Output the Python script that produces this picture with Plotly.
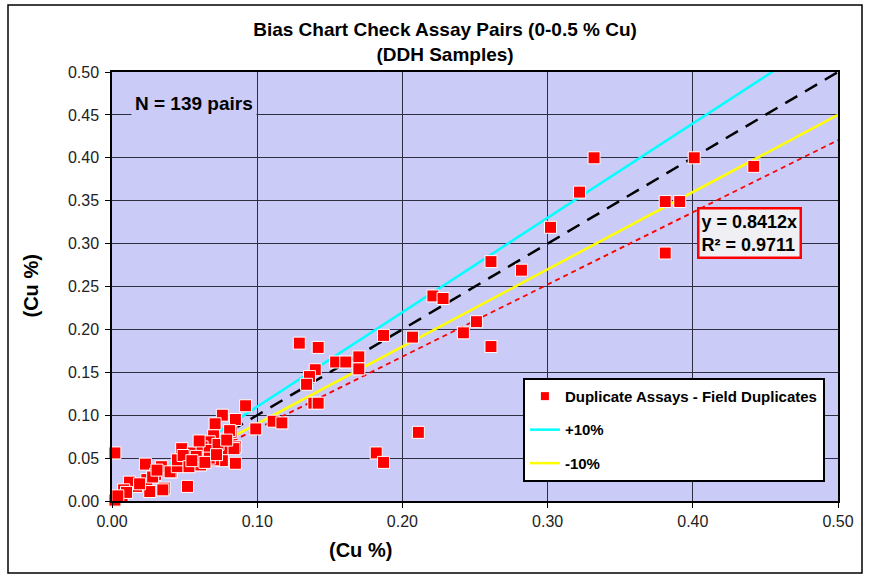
import plotly.graph_objects as go

# Field duplicate pairs: original assay (x) vs duplicate assay (y), Cu %
orig_cu = [
    0.332, 0.401, 0.442, 0.322, 0.381, 0.391, 0.381, 0.302, 0.261, 0.282,
    0.221, 0.228, 0.251, 0.242, 0.261, 0.207, 0.187, 0.211, 0.182, 0.187,
    0.129, 0.142, 0.154, 0.161, 0.170, 0.170, 0.140, 0.136, 0.134, 0.139,
    0.142, 0.092, 0.085, 0.082, 0.099, 0.111, 0.117, 0.085,
    0.076, 0.071, 0.081, 0.070, 0.067, 0.048, 0.056, 0.062, 0.067, 0.076,
    0.084, 0.076, 0.085, 0.061, 0.047, 0.070, 0.035, 0.041, 0.052, 0.036,
    0.002, 0.023, 0.034, 0.040, 0.030, 0.024, 0.017, 0.012, 0.008, 0.007,
    0.002, 0.035, 0.026, 0.045, 0.045, 0.067, 0.049, 0.058, 0.064, 0.053,
    0.073, 0.079, 0.060, 0.028, 0.019, 0.010, 0.004, 0.031, 0.055, 0.072,
]
dup_cu = [
    0.400, 0.400, 0.390, 0.360, 0.349, 0.349, 0.289, 0.319, 0.279, 0.269,
    0.239, 0.236, 0.209, 0.196, 0.180, 0.191, 0.193, 0.080, 0.056, 0.045,
    0.184, 0.179, 0.162, 0.162, 0.168, 0.154, 0.153, 0.145, 0.136, 0.114,
    0.114, 0.111, 0.095, 0.080, 0.084, 0.093, 0.091, 0.063,
    0.100, 0.090, 0.082, 0.076, 0.069, 0.061, 0.056, 0.063, 0.059, 0.059,
    0.061, 0.047, 0.044, 0.042, 0.048, 0.048, 0.038, 0.034, 0.017, 0.015,
    0.056, 0.043, 0.040, 0.034, 0.031, 0.025, 0.017, 0.022, 0.013, 0.005,
    0.001, 0.013, 0.011, 0.040, 0.048, 0.050, 0.053, 0.052, 0.045, 0.040,
    0.066, 0.071, 0.070, 0.028, 0.020, 0.010, 0.006, 0.036, 0.047, 0.054,
]

# Reference lines
line_x = [0.0, 0.5]
slope_one = 1.0
slope_plus = 1.1
slope_minus = 0.9
trend_slope = 0.8412
trend_r2 = 0.9711
n_pairs = 139

tick_vals_x = [0.0, 0.1, 0.2, 0.3, 0.4, 0.5]
tick_vals_y = [0.0, 0.05, 0.10, 0.15, 0.20, 0.25, 0.30, 0.35, 0.40, 0.45, 0.50]

FONT = "Liberation Sans, Arial, sans-serif"
PLOT_BG = "#CBCBF7"
GRID = "#2E2E40"

fig = go.Figure()

fig.add_trace(go.Scatter(
    x=line_x, y=[v * slope_one for v in line_x], mode="lines",
    line=dict(color="black", width=2.5, dash="14px,9px"),
    showlegend=False, hoverinfo="skip"))
fig.add_trace(go.Scatter(
    x=line_x, y=[v * slope_plus for v in line_x], mode="lines",
    name="+10%", legendgroup="b", legendrank=2,
    line=dict(color="#00FFFF", width=2.5)))
fig.add_trace(go.Scatter(
    x=line_x, y=[v * slope_minus for v in line_x], mode="lines",
    name="-10%", legendgroup="c", legendrank=3,
    line=dict(color="#FFFF00", width=2.5)))
fig.add_trace(go.Scatter(
    x=line_x, y=[v * trend_slope for v in line_x], mode="lines",
    line=dict(color="#FF0000", width=1.8, dash="5px,4px"),
    showlegend=False, hoverinfo="skip"))
fig.add_trace(go.Scatter(
    x=orig_cu, y=dup_cu, mode="markers",
    showlegend=False, cliponaxis=False,
    marker=dict(symbol="square", size=12, color="#FF0000",
                line=dict(color="white", width=1))))
# Legend key for the duplicate pairs (smaller square than the plotted marks)
fig.add_trace(go.Scatter(
    x=[None], y=[None], mode="markers",
    name="Duplicate Assays - Field Duplicates", legendgroup="a", legendrank=1,
    marker=dict(symbol="square", size=8, color="#FF0000")))

axis_common = dict(
    range=[0, 0.5], showgrid=True, gridcolor=GRID, gridwidth=1,
    showline=True, linecolor="black", linewidth=1.5, mirror=True,
    ticks="outside", ticklen=5, tickcolor="black", zeroline=False,
    tickformat=".2f", tickfont=dict(family=FONT, size=16, color="#222222"),
)
fig.update_xaxes(tickvals=tick_vals_x, **axis_common)
fig.update_yaxes(tickvals=tick_vals_y, ticklabelstandoff=3, **axis_common)

fig.update_layout(
    width=870, height=578,
    margin=dict(l=112, r=32, t=72, b=77),
    paper_bgcolor="white", plot_bgcolor=PLOT_BG,
    font=dict(family=FONT, color="black"),
    title=dict(
        text="<b>Bias Chart Check Assay Pairs (0-0.5 % Cu)<br>(DDH Samples)</b>",
        x=445 / 870, xanchor="center", y=0.937, yanchor="top",
        font=dict(family=FONT, size=19, color="black")),
    legend=dict(
        x=0.566, y=0.287, xanchor="left", yanchor="top",
        bgcolor="white", bordercolor="black", borderwidth=2,
        font=dict(family=FONT, size=15, color="black", weight="bold"),
        traceorder="grouped", tracegroupgap=11,
        itemwidth=30),
    showlegend=True,
)

# Axis titles
fig.add_annotation(xref="paper", yref="paper", x=(360 - 112) / 726, y=(501 - 550) / 429,
                   xanchor="center", yanchor="middle",
                   text="<b>(Cu %)</b>", showarrow=False,
                   font=dict(family=FONT, size=20, color="black"))
fig.add_annotation(xref="paper", yref="paper", x=(30 - 112) / 726, y=0.5,
                   xanchor="center", yanchor="middle",
                   text="<b>(Cu %)</b>", textangle=-90, showarrow=False,
                   font=dict(family=FONT, size=20, color="black"))

# Sample count
fig.add_annotation(xref="paper", yref="paper", x=(131 - 112) / 726, y=(501 - 103) / 429,
                   xanchor="left", yanchor="middle",
                   text=f"<b>N = {n_pairs} pairs</b>", showarrow=False,
                   bgcolor=PLOT_BG, borderpad=3,
                   font=dict(family=FONT, size=19, color="black"))

# Trendline equation box
fig.add_annotation(xref="paper", yref="paper", x=(697 - 112) / 726, y=(501 - 207) / 429,
                   xanchor="left", yanchor="top", align="left",
                   text=f"<b>y = {trend_slope:.4f}x<br>R² = {trend_r2:.4f}</b>",
                   showarrow=False, bgcolor="#F0F0F4",
                   bordercolor="#FF0000", borderwidth=2.5, borderpad=2,
                   font=dict(family=FONT, size=18, color="black"))

# Outer chart border
fig.add_shape(type="rect", xref="paper", yref="paper",
              x0=(8 - 112) / 726, x1=(862 - 112) / 726,
              y0=(501 - 573) / 429, y1=(501 - 5) / 429,
              line=dict(color="black", width=1.5), layer="below")

fig.write_html("out.html")
